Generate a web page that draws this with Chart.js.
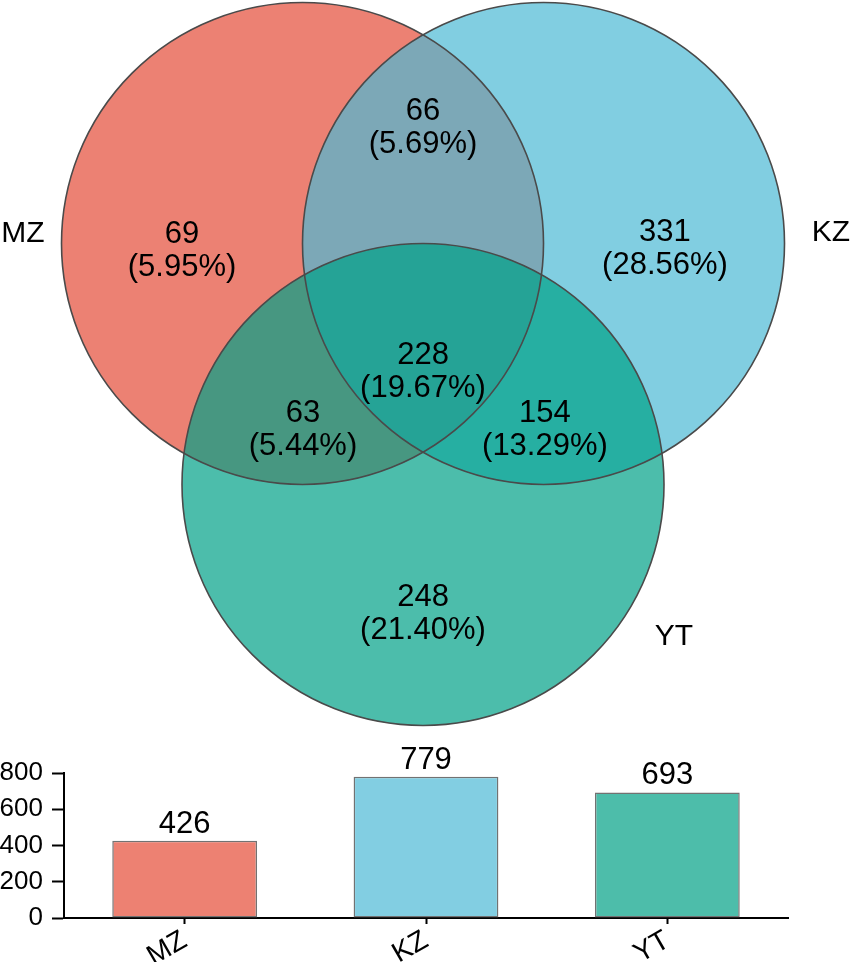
<!DOCTYPE html>
<html>
<head>
<meta charset="utf-8">
<script src="https://cdn.jsdelivr.net/npm/chart.js@4.4.1/dist/chart.umd.min.js"></script>
<style>
  html, body { margin: 0; padding: 0; background: #fff; }
  canvas { display: block; }
</style>
</head>
<body>
<canvas id="venn" width="851" height="740" style="width:851px;height:740px"></canvas>
<canvas id="bars" width="851" height="222" style="width:851px;height:222px"></canvas>
<script>
// --- data ---
const SET_NAMES = ['MZ', 'KZ', 'YT'];
const SET_TOTALS = [426, 779, 693];

// regions: only MZ, MZ+KZ, only KZ, MZ+YT, all three, KZ+YT, only YT
const REGION_NAMES = ['MZ', 'MZ∩KZ', 'KZ', 'MZ∩YT', 'MZ∩KZ∩YT', 'KZ∩YT', 'YT'];
const REGION_COUNTS = [69, 66, 331, 63, 228, 154, 248];

// --- layout (units of circle radius) ---
const CIRCLE_R = 1;
const CIRCLE_CENTERS = [{ x: -0.5, y: 0.5 }, { x: 0.5, y: 0.5 }, { x: 0, y: -0.5 }];
const REGION_POS = [[-1.0, 0.539], [0, 1.046], [1.004, 0.544], [-0.498, -0.207], [0, 0.037], [0.506, -0.207], [0, -0.967]];
const NAME_POS = [[-1.66, 0.539], [1.693, 0.544], [1.041, -1.133]];
const X_RANGE = [-1.7552, 1.7759];
const Y_RANGE = [-1.5601, 1.5104];
const VENN_W = 851;

const FONT = '"Liberation Sans", Arial, Helvetica, sans-serif';
const VENN_FILL = ['rgba(228,75,55,0.7)', 'rgba(76,185,212,0.7)', 'rgba(0,161,135,0.7)'];
const BAR_FILL = ['#ED8172', '#82CEE2', '#4DBDAA'];

const totalCount = REGION_COUNTS.reduce((a, b) => a + b, 0);
// il grafico occupa tutta la tela: raggio = unità della scala x in pixel
const radiusPx = CIRCLE_R * VENN_W / (X_RANGE[1] - X_RANGE[0]);

// testi delle regioni e nomi degli insiemi
const vennLabels = {
    id: 'vennLabels',
    afterDatasetsDraw(chart) {
        const { ctx, scales: { x, y } } = chart;
        ctx.save();
        ctx.fillStyle = '#000';
        ctx.textAlign = 'center';
        ctx.textBaseline = 'middle';
        ctx.font = '31px ' + FONT;
        REGION_COUNTS.forEach((n, i) => {
            const px = x.getPixelForValue(REGION_POS[i][0]);
            const py = y.getPixelForValue(REGION_POS[i][1]);
            ctx.fillText(String(n), px, py);
            ctx.fillText('(' + (n / totalCount * 100).toFixed(2) + '%)', px, py + 33);
        });
        ctx.font = '30px ' + FONT;
        SET_NAMES.forEach((name, i) => {
            ctx.fillText(name, x.getPixelForValue(NAME_POS[i][0]), y.getPixelForValue(NAME_POS[i][1]));
        });
        ctx.restore();
    }
};

new Chart(document.getElementById('venn'), {
    type: 'bubble',
    data: {
        datasets: [
            {
                // contorni sopra tutti i riempimenti
                data: CIRCLE_CENTERS,
                backgroundColor: 'rgba(0,0,0,0)',
                borderColor: '#4a4a4a',
                borderWidth: 1.6,
                radius: radiusPx,
                order: 1,
                clip: false
            },
            {
                data: CIRCLE_CENTERS.map(c => ({ x: c.x, y: c.y })),
                backgroundColor: VENN_FILL,
                borderWidth: 0,
                radius: radiusPx,
                order: 2,
                clip: false
            }
        ]
    },
    options: {
        responsive: false,
        animation: false,
        events: [],
        layout: { padding: 0, autoPadding: false },
        scales: {
            x: { type: 'linear', display: false, min: X_RANGE[0], max: X_RANGE[1] },
            y: { type: 'linear', display: false, min: Y_RANGE[0], max: Y_RANGE[1] }
        },
        plugins: { legend: { display: false }, tooltip: { enabled: false } }
    },
    plugins: [vennLabels]
});

// valori sopra le barre
const barValues = {
    id: 'barValues',
    afterDatasetsDraw(chart) {
        const { ctx } = chart;
        const meta = chart.getDatasetMeta(0);
        ctx.save();
        ctx.fillStyle = '#000';
        ctx.textAlign = 'center';
        ctx.textBaseline = 'bottom';
        ctx.font = '31px ' + FONT;
        meta.data.forEach((bar, i) => {
            ctx.fillText(String(chart.data.datasets[0].data[i]), bar.x, bar.y - 1);
        });
        ctx.restore();
    }
};

new Chart(document.getElementById('bars'), {
    type: 'bar',
    data: {
        labels: SET_NAMES,
        datasets: [{
            data: SET_TOTALS,
            backgroundColor: BAR_FILL,
            borderColor: '#727272',
            borderWidth: 1.5,
            borderSkipped: false,
            barPercentage: 0.6,
            categoryPercentage: 1
        }]
    },
    options: {
        responsive: false,
        animation: false,
        events: [],
        layout: { padding: { top: 33, right: 63, left: 0, bottom: 0 } },
        scales: {
            x: {
                grid: { offset: false, drawOnChartArea: false, drawTicks: true, tickLength: 6, tickWidth: 2, tickColor: '#000' },
                border: { display: true, color: '#000', width: 2 },
                ticks: {
                    color: '#000',
                    font: { family: FONT, size: 28 },
                    minRotation: 30,
                    maxRotation: 30,
                    padding: 0
                },
                afterFit: (scale) => { scale.height = 44; }
            },
            y: {
                min: 0,
                max: 800,
                grid: { drawOnChartArea: false, drawTicks: true, tickLength: 12, tickWidth: 2, tickColor: '#000' },
                border: { display: true, color: '#000', width: 2 },
                ticks: {
                    stepSize: 200,
                    color: '#000',
                    font: { family: FONT, size: 26 },
                    padding: 9
                },
                afterFit: (scale) => { scale.width = 64; }
            }
        },
        plugins: { legend: { display: false }, tooltip: { enabled: false } }
    },
    plugins: [barValues]
});
</script>
</body>
</html>
